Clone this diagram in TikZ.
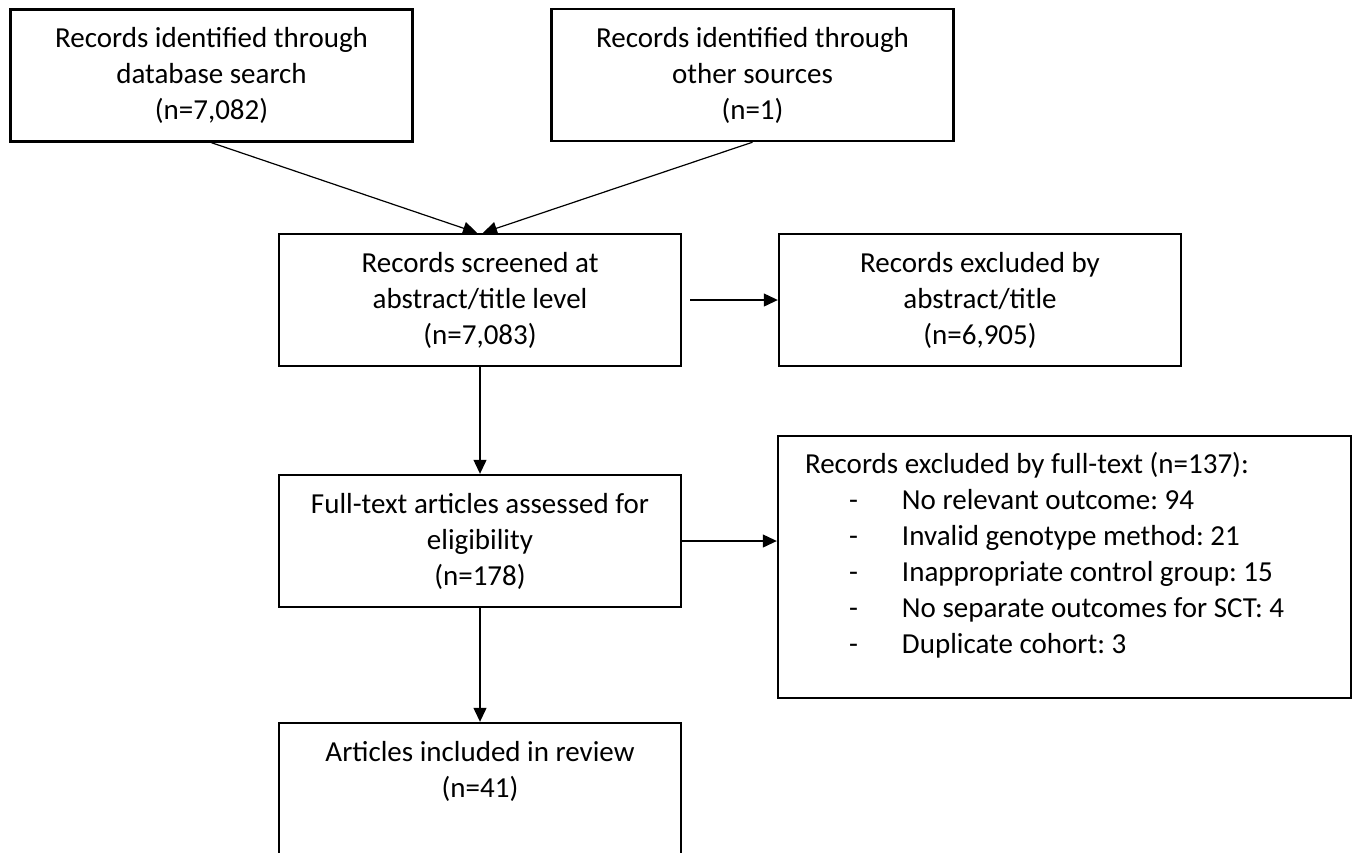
\documentclass[tikz,border=0pt]{standalone}
\usepackage{fontspec}
\setmainfont{Carlito}
\usetikzlibrary{positioning, calc, arrows.meta}

% one reason line in the exclusion box
\newcommand{\exitem}[1]{\makebox[48.5pt][l]{\hspace{22pt}-}#1}

\begin{document}
\frenchspacing
\begin{tikzpicture}[x=0.5pt, y=-0.5pt,
    font=\fontsize{14.5}{18}\selectfont,
    box/.style={draw=black, line width=1.2pt, align=center, minimum width=201pt, minimum height=66pt, inner sep=0pt},
    listbox/.style={draw=black, line width=1.2pt, align=flush left, minimum width=286.5pt, text width=259.5pt, inner sep=0pt},
    arr/.style={line width=0.6pt, -{Triangle[length=7pt, width=6.5pt]}}
]
\useasboundingbox (0,0) rectangle (1358,852);

% ============ IDENTIFICATION ============
\node[box] (srcdb)  at (211.5, 75.5) {Records identified through\\database search\\(n=7,082)};
\node[box] (srcoth) at (752.5, 75)   {Records identified through\\other sources\\(n=1)};

% ============ SCREENING ============
\node[box] (screen) at (480, 300) {Records screened at\\abstract/title level\\(n=7,083)};
\node[box] (exabs)  at (980, 300) {Records excluded by\\abstract/title\\(n=6,905)};

% ============ ELIGIBILITY ============
\node[listbox, text height=18.5pt, text depth=112.5pt] (exfull) at (1064.5, 567) {Records excluded by full-text (n=137):\\
  \exitem{No relevant outcome: 94}\\
  \exitem{Invalid genotype method: 21}\\
  \exitem{Inappropriate control group: 15}\\
  \exitem{No separate outcomes for SCT: 4}\\
  \exitem{Duplicate cohort: 3}};
\node[box] (fulltext) at (480, 541) {Full-text articles assessed for\\eligibility\\(n=178)};

% ============ INCLUDED ============
\node[box, text height=37pt, text depth=29pt] (incl) at (480, 789) {Articles included in review\\(n=41)};

% Arrows
\draw[arr] (srcdb.south) -- ([xshift=-1.5pt]screen.north);
\draw[arr] (srcoth.south) -- ([xshift=1.5pt]screen.north);
\draw[arr] ([xshift=4pt]screen.east) -- (exabs.west);
\draw[arr] (screen.south) -- (fulltext.north);
\draw[arr] (fulltext.east) -- (fulltext.east -| exfull.west);
\draw[arr] (fulltext.south) -- (incl.north);
\end{tikzpicture}
\end{document}
